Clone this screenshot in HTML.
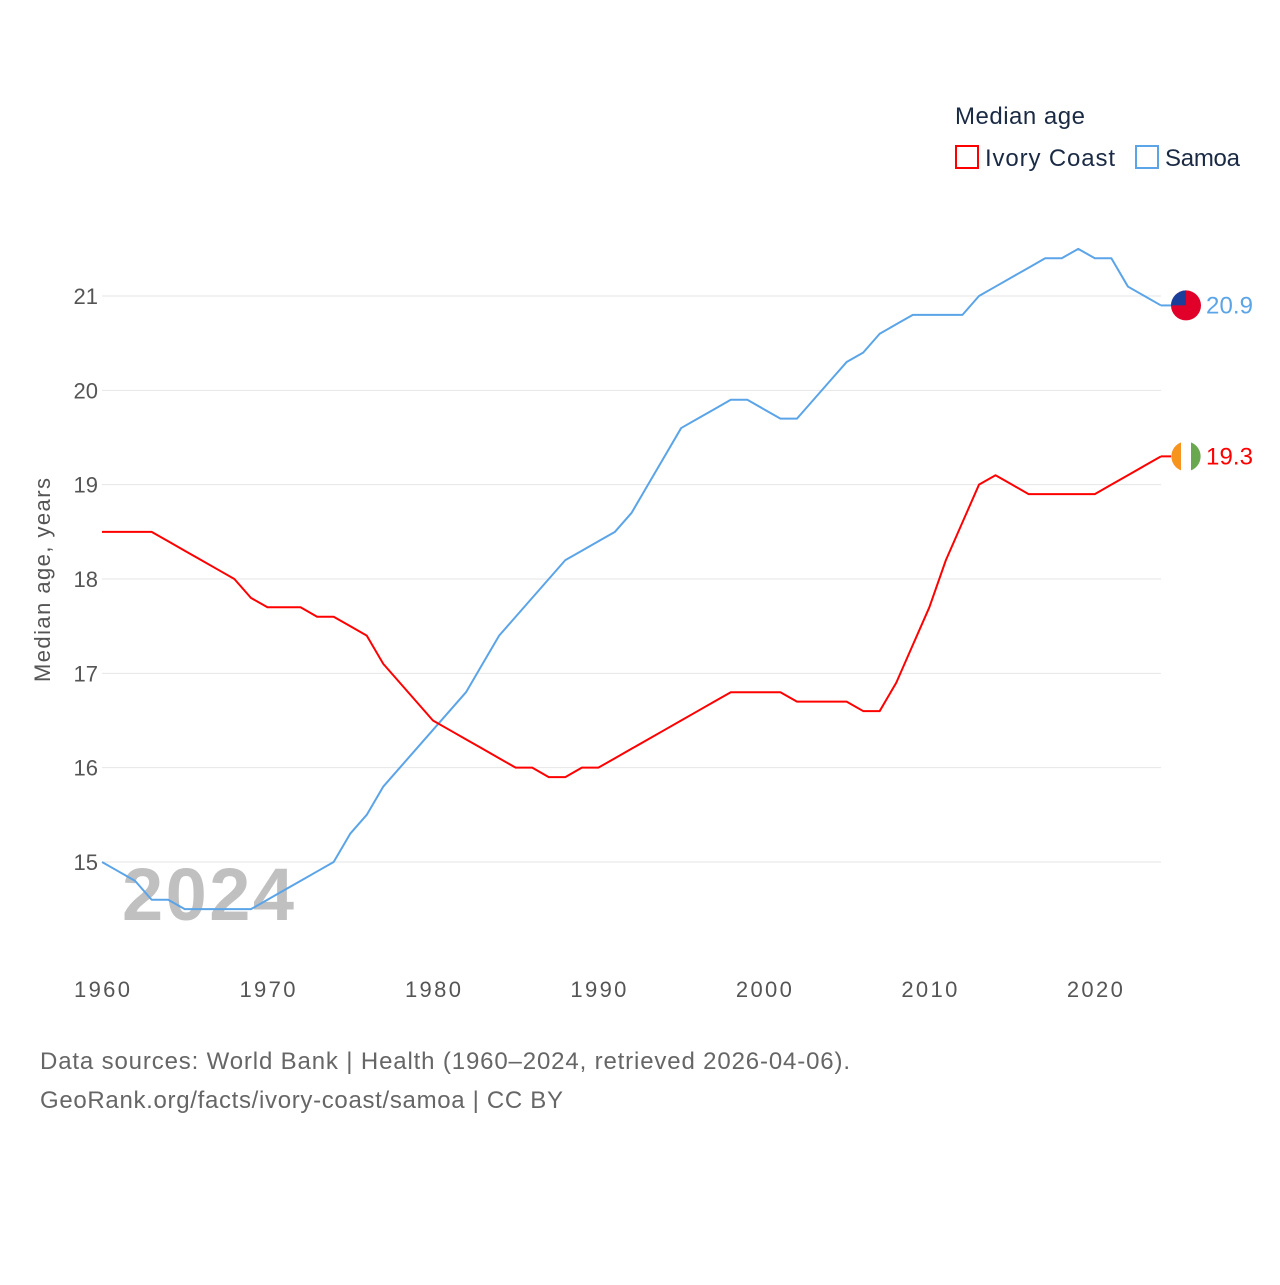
<!DOCTYPE html>
<html><head><meta charset="utf-8"><style>
body{margin:0;background:#fff;font-family:"Liberation Sans",sans-serif;}
svg text{font-family:"Liberation Sans",sans-serif;}
</style></head><body>
<svg id="c" width="1280" height="1280" xmlns="http://www.w3.org/2000/svg">
<text x="955" y="124" font-size="24" fill="#1a2a44" textLength="130">Median age</text>
<g><rect x="956" y="146" width="22" height="22" fill="none" stroke="#ff0000" stroke-width="2"/><text x="985" y="166" font-size="24" fill="#1a2a44" textLength="130">Ivory Coast</text></g>
<g><rect x="1136" y="146" width="22" height="22" fill="none" stroke="#5ba4e8" stroke-width="2"/><text x="1165" y="166" font-size="24" fill="#1a2a44" textLength="75">Samoa</text></g>
<g id="grid"></g><g id="yt"></g><g id="xt"></g>
<text x="122" y="920" font-size="74" font-weight="bold" fill="#c0c0c0" textLength="172">2024</text>
<g id="lines"></g>
<text transform="translate(50,580) rotate(-90)" text-anchor="middle" font-size="22" fill="#555" textLength="204">Median age, years</text>
<text x="40" y="1069" font-size="24" fill="#666" textLength="810">Data sources: World Bank | Health (1960–2024, retrieved 2026-04-06).</text>
<text x="40" y="1108" font-size="24" fill="#666" textLength="523">GeoRank.org/facts/ivory-coast/samoa | CC BY</text>
</svg>
<script>
const years=[];for(let y=1960;y<=2024;y++)years.push(y);
const ivoryCoast=[18.5,18.5,18.5,18.5,18.4,18.3,18.2,18.1,18.0,17.8,17.7,17.7,17.7,17.6,17.6,17.5,17.4,17.1,16.9,16.7,16.5,16.4,16.3,16.2,16.1,16.0,16.0,15.9,15.9,16.0,16.0,16.1,16.2,16.3,16.4,16.5,16.6,16.7,16.8,16.8,16.8,16.8,16.7,16.7,16.7,16.7,16.6,16.6,16.9,17.3,17.7,18.2,18.6,19.0,19.1,19.0,18.9,18.9,18.9,18.9,18.9,19.0,19.1,19.2,19.3];
const samoa=[15.0,14.9,14.8,14.6,14.6,14.5,14.5,14.5,14.5,14.5,14.6,14.7,14.8,14.9,15.0,15.3,15.5,15.8,16.0,16.2,16.4,16.6,16.8,17.1,17.4,17.6,17.8,18.0,18.2,18.3,18.4,18.5,18.7,19.0,19.3,19.6,19.7,19.8,19.9,19.9,19.8,19.7,19.7,19.9,20.1,20.3,20.4,20.6,20.7,20.8,20.8,20.8,20.8,21.0,21.1,21.2,21.3,21.4,21.4,21.5,21.4,21.4,21.1,21.0,20.9];
const yTicks=[15,16,17,18,19,20,21];
const xTicks=[1960,1970,1980,1990,2000,2010,2020];
const X=y=>102+(y-1960)*(1161-102)/64;
const Y=v=>862-(v-15)*(862-296)/6;
const NS='http://www.w3.org/2000/svg';
function mk(t,a,p){const e=document.createElementNS(NS,t);for(const k in a)e.setAttribute(k,a[k]);p.appendChild(e);return e;}
const g=document.getElementById('grid'),yt=document.getElementById('yt'),xt=document.getElementById('xt'),L=document.getElementById('lines');
yTicks.forEach(v=>{const l=mk('line',{x1:102,x2:1161,y1:Y(v),y2:Y(v),stroke:'#e6e6e6','stroke-width':1},g);


const t=mk('text',{x:98,y:Y(v)+8,'text-anchor':'end','font-size':22,fill:'#555'},yt);t.textContent=v;

});
xTicks.forEach(v=>{const t=mk('text',{x:X(v),y:997,'text-anchor':'middle','font-size':22,fill:'#555',textLength:56},xt);t.textContent=v;

});
function series(data,col,name,flag){
const p=mk('polyline',{points:data.map((v,i)=>X(years[i])+','+Y(v)).join(' '),fill:'none',stroke:col,'stroke-width':2,'stroke-linejoin':'round'},L);


const last=data[data.length-1],cy=Y(last);
const c=mk('line',{x1:1161,x2:1172,y1:cy,y2:cy,stroke:col,'stroke-width':2},L);


const fg=mk('g',{},L);


if(flag==='ci'){mk('circle',{cx:1186,cy:cy,r:15,fill:'#fff'},fg);
mk('path',{d:`M1181 ${cy-14}A15 15 0 0 0 1181 ${cy+14}Z`,fill:'#f7941d'},fg);
mk('path',{d:`M1191 ${cy-14}A15 15 0 0 1 1191 ${cy+14}Z`,fill:'#6aa84f'},fg);}
else{mk('circle',{cx:1186,cy:cy,r:15,fill:'#e0002a'},fg);
mk('path',{d:`M1171 ${cy}A15 15 0 0 1 1186 ${cy-15}L1186 ${cy}Z`,fill:'#1a3f9a'},fg);}
const t=mk('text',{x:1206,y:cy+8,'font-size':24,fill:col,textLength:47},L);t.textContent=last.toFixed(1);

}
series(samoa,'#5ba4e8','samoa','ws');
series(ivoryCoast,'#ff0000','ivory-coast','ci');
</script>
</body></html>
